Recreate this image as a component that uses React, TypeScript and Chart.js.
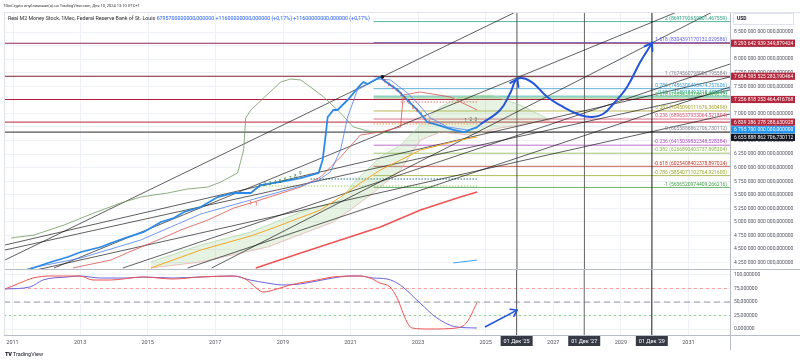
import React, { useEffect, useRef } from 'react';
import { Chart, registerables } from 'chart.js';
Chart.register(...registerables);

// ---------- axes ----------
const X_MIN = 2010.749;
const X_MAX = 2032.23;
const P_MIN = 4133.8;
const P_MAX = 8868.5;
const O_MIN = -11.1;
const O_MAX = 111.1;
const yearTicks = [2011, 2013, 2015, 2017, 2019, 2021, 2023, 2025, 2027, 2029, 2031];
const priceTicks = [4250, 4500, 4750, 5000, 5250, 5500, 5750, 6000, 6250, 6500, 6750, 7000, 7250, 7500, 7750, 8000, 8250, 8500, 8750];
const oscTicks = [0, 25, 50, 75, 100];

// ---------- Real M2 (billions USD) ----------
const m2Years = [2011.37, 2011.58, 2012.11, 2012.61, 2013.0, 2013.59, 2013.89, 2014.39, 2014.86, 2015.37, 2015.75, 2016.05, 2016.55, 2017.05, 2017.53, 2018.03, 2018.32, 2018.92, 2019.51, 2020.04, 2020.16, 2020.25, 2020.31, 2020.48, 2020.6, 2020.9, 2021.28, 2021.37, 2021.49, 2021.87, 2021.96, 2022.38, 2022.67, 2022.97, 2023.26, 2023.56, 2024.03, 2024.35, 2024.74, 2024.83];
const m2Values = [4115, 4152, 4263, 4355, 4447, 4539, 4613, 4723, 4816, 5000, 5073, 5184, 5276, 5460, 5534, 5534, 5681, 5737, 5810, 5902, 6142, 6602, 6934, 7063, 7063, 7247, 7524, 7579, 7542, 7674, 7616, 7431, 7247, 7063, 6842, 6787, 6695, 6656, 6750, 6796];

// hand-drawn projection
const projYears = [2024.83, 2025.42, 2025.72, 2025.93, 2026.31, 2026.82, 2027.29, 2027.79, 2028.15, 2028.47, 2028.77, 2029.18, 2029.57, 2029.92];
const projValues = [6796, 7063, 7376, 7634, 7597, 7303, 7118, 6971, 6934, 6989, 7174, 7487, 7947, 8297];
const projArrowTips = [3, 13];

// indicators
const thinBlueYears = [2011.52, 2013.0, 2014.77, 2016.55, 2018.03, 2019.51, 2020.04, 2020.39, 2020.69, 2020.9, 2021.19, 2021.78, 2022.17, 2022.67, 2022.97, 2023.35, 2023.86, 2024.45, 2024.74];
const thinBlueValues = [4152, 4337, 4668, 5147, 5405, 5663, 5773, 5921, 6326, 6934, 7431, 7634, 7616, 7376, 7192, 6916, 6750, 6695, 6731];
const redThinYears = [2012.76, 2013.89, 2014.57, 2015.28, 2015.96, 2016.76, 2017.53, 2018.03, 2019.51, 2020.1, 2020.69, 2021.28, 2021.87, 2022.47, 2022.55, 2023.05, 2023.94, 2024.74];
const redThinValues = [4152, 4300, 4484, 4668, 4852, 5036, 5258, 5350, 5645, 5829, 6197, 6602, 6658, 6750, 7339, 7395, 7303, 7063];
const greenYears = [2010.93, 2011.61, 2012.5, 2013.38, 2014.18, 2014.77, 2015.57, 2016.16, 2016.76, 2017.14, 2017.64, 2017.82, 2017.88, 2018.03, 2018.92, 2019.21, 2019.51, 2019.8, 2020.19, 2020.69, 2021.07, 2021.49, 2021.87, 2022.17];
const greenValues = [4705, 4760, 4944, 5165, 5350, 5460, 5534, 5608, 5644, 5737, 5902, 6326, 6916, 7063, 7579, 7634, 7616, 7487, 7303, 7008, 6750, 6676, 6658, 6640];
const orangeYears = [2015.07, 2016.55, 2018.03, 2018.53, 2020.1, 2020.69, 2021.28, 2021.87, 2022.47, 2023.06, 2023.65, 2024.24, 2024.74];
const orangeValues = [4152, 4484, 4742, 4852, 5221, 5460, 5718, 5958, 6142, 6326, 6418, 6510, 6566];
const cloudUpperYears = [2015.07, 2016.55, 2018.03, 2019.51, 2020.69, 2021.07, 2021.87, 2022.47, 2023.06, 2023.65, 2024.24, 2025.13, 2026.02, 2026.9];
const cloudUpperValues = [4263, 4576, 4816, 5184, 5405, 5718, 6197, 6418, 6787, 7118, 7303, 7339, 7155, 6879];
const cloudLowerYears = [2015.07, 2016.55, 2018.53, 2020.48, 2021.58, 2022.47, 2022.76, 2023.06, 2023.65, 2024.54, 2025.42, 2026.9];
const cloudLowerValues = [4152, 4263, 4539, 5000, 5497, 5958, 6234, 6510, 6658, 6602, 6731, 6879];
const redMaYears = [2018.18, 2019.51, 2020.69, 2021.87, 2023.06, 2024.24, 2024.74];
const redMaValues = [4152, 4429, 4668, 4908, 5221, 5460, 5552];
const lightBlueYears = [2024.03, 2024.74];
const lightBlueValues = [4244, 4300];

// trend lines: [year1, value1, year2, value2]
const trendLines = [
  [2010.75, 4300, 2026.61, 9089],
  [2010.75, 4576, 2032.23, 7671],
  [2010.75, 4484, 2032.23, 7432],
  [2010.75, 3987, 2032.23, 6989],
  [2014.24, 4152, 2032.23, 7910],
  [2016.16, 4152, 2032.23, 7487],
  [2012.2, 4152, 2031.52, 9089],
  [2016.87, 4152, 2032.4, 9089],
];
const peakDotYear = 2021.93;
const peakDotValue = 7674.56;

// dotted horizontal segments: [fromYear, toYear, value, color]
const dottedLines: [number, number, number, string][] = [
  [2019.8, 2024.74, 5792, '#1f6f78'],
  [2018.3, 2024.74, 5663, '#9ccc65'],
  [2021.67, 2024.74, 6805, '#f0a040'],
  [2022.47, 2024.74, 7210, '#e57373'],
];

// full-width horizontal levels + axis labels
const levelValues = [8293.64, 7684.6, 7256.82, 6839.29, 6655.89];
const levelColors = ['#8e2a58', '#7d2330', '#b71c3c', '#c65060', '#555555'];
const boxValues = [8293.64, 7684.6, 7256.82, 6839.29, 6795.7, 6655.89];
const boxTexts = ['8 293 642 939 349,879424', '7 684 595 525 283,190464', '7 256 818 253 464,416768', '6 839 286 278 288,630928', '6 795 700 000 000,000000', '6 655 888 862 706,730112'];
const boxColors = ['#b3263c', '#b3263c', '#b3263c', '#b3263c', '#2196f3', '#131722'];

// fibonacci
const fibStart = 2021.67;
const fibValues = [8691.79, 8304.39, 7674.56, 7456.31, 7318.0, 7285.4, 7045.09, 6896.54, 6655.89, 6415.04, 6266.89, 6025.41, 5854.07, 5636.52];
const fibTexts = ['2 (8691792659501,467559)', '1.618 (8304391170132,029586)', '1 (7674560798006,195584)', '0.786 (7456306493474,757606)', '0.65 (7318018493318,488336)', '0.618 (7285439318618,479372)', '0.382 (7045090111676,360496)', '0.236 (6896537933064,521804)', '0 (6655888862706,730112)', '-0.236 (6415039832348,528384)', '-0.382 (6266893403737,898304)', '-0.618 (6025408402378,897024)', '-0.786 (5854071102764,921600)', '-1 (5636520974409,266216)'];
const fibColors = ['#2fa383', '#5c5ce0', '#808390', '#3a9fd0', '#26a69a', '#4caf50', '#a8a62a', '#d4526e', '#808390', '#b04cc0', '#8bb84a', '#c0392b', '#9aab2e', '#43a047'];

// TD sequential counts
const tdYears = [2018.03, 2018.2, 2018.3, 2018.45, 2018.6, 2018.75, 2018.9, 2019.05, 2019.2, 2019.35, 2019.5, 2022.0, 2022.12, 2022.24, 2022.36, 2022.48, 2022.6, 2022.72, 2022.84, 2022.96, 2023.08, 2023.2, 2023.32, 2024.4, 2024.55, 2024.7];
const tdValues = [5330, 5310, 5650, 5675, 5700, 5720, 5745, 5770, 5800, 5840, 5880, 7580, 7530, 7470, 7410, 7340, 7270, 7190, 7110, 7040, 6970, 6900, 6830, 6860, 6875, 6890];
const tdLabels = ['1', '1', '1', '2', '3', '4', '5', '6', '7', '8', '9', '1', '2', '3', '4', '5', '6', '7', '8', '9', '1', '2', '3', '1', '2', '3'];
const tdColors = ['#e53935', '#e53935', '#2e7d32', '#2e7d32', '#2e7d32', '#2e7d32', '#2e7d32', '#2e7d32', '#2e7d32', '#2e7d32', '#2e7d32', '#e53935', '#e53935', '#e53935', '#e53935', '#e53935', '#e53935', '#e53935', '#e53935', '#e53935', '#e53935', '#e53935', '#e53935', '#2e7d32', '#2e7d32', '#2e7d32'];

// oscillator
const oscRedYears = [2010.78, 2011.22, 2011.61, 2012.11, 2013.0, 2013.38, 2013.89, 2014.86, 2015.75, 2016.55, 2017.53, 2017.94, 2018.18, 2018.41, 2018.83, 2019.21, 2020.01, 2020.48, 2021.28, 2021.58, 2021.87, 2022.17, 2022.38, 2022.67, 2022.82, 2023.35, 2024.15, 2024.45, 2024.74];
const oscRedValues = [74.1, 85.2, 94.4, 98.1, 98.1, 90.7, 90.7, 96.3, 92.6, 96.3, 98.1, 90.7, 77.8, 68.5, 74.1, 81.5, 90.7, 96.3, 98.1, 94.4, 85.2, 77.8, 57.4, 13.0, 1.9, 0, 1.9, 13.0, 48.1];
const oscBlueYears = [2010.78, 2011.52, 2011.9, 2012.61, 2013.0, 2013.59, 2014.39, 2014.86, 2015.75, 2016.55, 2017.53, 2018.03, 2018.53, 2019.0, 2019.51, 2020.01, 2020.48, 2020.99, 2021.28, 2021.67, 2022.08, 2022.47, 2023.06, 2023.56, 2024.15, 2024.74];
const oscBlueValues = [74.1, 77.8, 90.7, 96.3, 98.1, 94.4, 94.4, 96.3, 94.4, 96.3, 98.1, 90.7, 85.2, 81.5, 83.3, 88.9, 94.4, 98.1, 98.1, 94.4, 92.6, 81.5, 48.1, 20.4, 3.7, 1.9];
const oscArrowYears = [2024.98, 2025.93];
const oscArrowValues = [3.7, 35];
const oscLevels = [75, 50, 25];
const oscLevelColors = ['#f4a3a3', '#9598a1', '#8fd18f'];
const oscLevelDash = [[3, 3], [6, 4], [2, 3]];

// vertical date markers
const markerYears = [2025.917, 2027.917, 2029.917];
const markerTexts = ["01 Дек '25", "01 Дек '27", "01 Дек '29"];
const markerColors = ['#555555', '#666666', '#1a1a1a'];

const FONT = 'Roboto';

const pts = (xs: number[], ys: number[]) => xs.map((x, i) => ({ x, y: ys[i] }));
const ds = (data: any[], color: string, width: number, extra: any = {}) => ({
  data, borderColor: color, borderWidth: width, pointRadius: 0, fill: false, tension: 0, ...extra,
});
const fmtBig = (v: number) => String(Math.round(v) * 1e9).replace(/\B(?=(\d{3})+(?!\d))/g, ' ') + ',000000';

function arrowHead(ctx: CanvasRenderingContext2D, fx: number, fy: number, tx: number, ty: number, len: number) {
  const a = Math.atan2(ty - fy, tx - fx);
  ctx.beginPath();
  ctx.moveTo(tx - len * Math.cos(a - 0.6), ty - len * Math.sin(a - 0.6));
  ctx.lineTo(tx, ty);
  ctx.lineTo(tx - len * Math.cos(a + 0.6), ty - len * Math.sin(a + 0.6));
  ctx.stroke();
}

export default function App() {
  const mainRef = useRef<HTMLCanvasElement>(null);
  const oscRef = useRef<HTMLCanvasElement>(null);

  useEffect(() => {
    document.body.style.margin = '0';
    const datasets: any[] = [];
    fibValues.forEach((v, i) => datasets.push(ds([{ x: fibStart, y: v }, { x: X_MAX, y: v }], fibColors[i], 0.8, { order: 30 })));
    levelValues.forEach((v, i) => datasets.push(ds([{ x: X_MIN, y: v }, { x: X_MAX, y: v }], levelColors[i], 1.1, { order: 29 })));
    dottedLines.forEach(([a, b, v, c]) => datasets.push(ds([{ x: a, y: v }, { x: b, y: v }], c, 1.2, { borderDash: [1.5, 1.5], order: 28 })));
    markerYears.forEach((yr, i) => datasets.push(ds([{ x: yr, y: P_MIN }, { x: yr, y: P_MAX }], markerColors[i], 1, { order: 27 })));
    datasets.push(ds(pts(cloudUpperYears, cloudUpperValues), '#a9d6a0', 0.7, { fill: '+1', backgroundColor: 'rgba(130,190,110,0.2)', order: 26 }));
    datasets.push(ds(pts(cloudLowerYears, cloudLowerValues), '#e7a7a7', 0.7, { order: 25 }));
    trendLines.forEach(([x1, y1, x2, y2]) => datasets.push(ds([{ x: x1, y: y1 }, { x: x2, y: y2 }], 'rgba(20,20,20,0.85)', 0.8, { order: 20 })));
    datasets.push(ds(pts(redMaYears, redMaValues), '#f05454', 1.5, { order: 15 }));
    datasets.push(ds(pts(orangeYears, orangeValues), '#f5a623', 1, { order: 14 }));
    datasets.push(ds(pts(lightBlueYears, lightBlueValues), '#42a5f5', 1.2, { order: 14 }));
    datasets.push(ds(pts(greenYears, greenValues), '#6e9c5e', 0.8, { order: 13 }));
    datasets.push(ds(pts(redThinYears, redThinValues), '#d9534f', 0.8, { order: 12 }));
    datasets.push(ds(pts(thinBlueYears, thinBlueValues), '#4f7cf0', 0.8, { order: 11 }));
    datasets.push(ds(pts(m2Years, m2Values), '#2b8ae8', 1.8, { order: 5 }));
    datasets.push(ds(pts(projYears, projValues), '#2455d8', 2, { tension: 0.4, order: 2 }));
    datasets.push(ds([{ x: peakDotYear, y: peakDotValue }], '#111', 1, { pointRadius: 1.4, pointBackgroundColor: '#111', order: 1 }));

    const mainOverlay = {
      id: 'mainOverlay',
      afterDatasetsDraw(chart: any) {
        const { ctx, scales } = chart;
        const xs = scales.x, ys = scales.y;
        ctx.save();
        ctx.font = `5px ${FONT}`;
        ctx.textAlign = 'right';
        ctx.textBaseline = 'bottom';
        fibValues.forEach((v, i) => {
          ctx.fillStyle = fibColors[i];
          ctx.fillText(fibTexts[i], 727, ys.getPixelForValue(v) - 0.5);
        });
        ctx.font = `4.5px ${FONT}`;
        ctx.textAlign = 'center';
        ctx.textBaseline = 'middle';
        tdYears.forEach((yr, i) => {
          ctx.fillStyle = tdColors[i];
          ctx.fillText(tdLabels[i], xs.getPixelForValue(yr), ys.getPixelForValue(tdValues[i]));
        });
        ctx.strokeStyle = '#2455d8';
        ctx.lineWidth = 2;
        ctx.lineCap = 'round';
        projArrowTips.forEach((ti) => {
          arrowHead(ctx, xs.getPixelForValue(projYears[ti - 1]), ys.getPixelForValue(projValues[ti - 1]), xs.getPixelForValue(projYears[ti]), ys.getPixelForValue(projValues[ti]), 8);
        });
        ctx.restore();
      },
      afterDraw(chart: any) {
        const { ctx, scales } = chart;
        const ys = scales.y;
        ctx.save();
        ctx.fillStyle = '#fff';
        ctx.strokeStyle = '#e0e3eb';
        ctx.lineWidth = 1;
        ctx.fillRect(733, 13, 60, 11);
        ctx.strokeRect(733.5, 13.5, 60, 11);
        ctx.fillStyle = '#131722';
        ctx.font = `bold 5px ${FONT}`;
        ctx.textAlign = 'left';
        ctx.textBaseline = 'middle';
        ctx.fillText('USD', 737, 19);
        let prev = -100;
        ctx.font = `5px ${FONT}`;
        boxValues.forEach((v, i) => {
          let y = ys.getPixelForValue(v);
          if (y < prev + 7.6) y = prev + 7.6;
          prev = y;
          ctx.fillStyle = boxColors[i];
          ctx.fillRect(731, y - 3.6, 64, 7.2);
          ctx.fillStyle = '#fff';
          ctx.fillText(boxTexts[i], 734, y + 0.3);
        });
        ctx.restore();
      },
    };

    const main = new Chart(mainRef.current!, {
      type: 'line',
      data: { datasets },
      plugins: [mainOverlay],
      options: {
        animation: false,
        responsive: false,
        devicePixelRatio: 1,
        layout: { padding: { left: 4, top: 12, right: 0, bottom: 94 } },
        plugins: { legend: { display: false }, tooltip: { enabled: false } },
        scales: {
          x: {
            type: 'linear', min: X_MIN, max: X_MAX,
            afterFit: (s: any) => { s.height = 0; },
            afterBuildTicks: (s: any) => { s.ticks = yearTicks.map((v) => ({ value: v })); },
            ticks: { display: false },
            grid: { color: '#eef1f6', drawTicks: false },
            border: { display: false },
          },
          y: {
            type: 'linear', position: 'right', min: P_MIN, max: P_MAX,
            afterFit: (s: any) => { s.width = 70; },
            afterBuildTicks: (s: any) => { s.ticks = priceTicks.map((v) => ({ value: v })); },
            ticks: { padding: 4, color: '#50535e', font: { family: FONT, size: 5 }, callback: (v: any) => fmtBig(Number(v)), autoSkip: false },
            grid: { color: '#eef1f6', drawTicks: false },
            border: { display: false },
          },
        },
      } as any,
    });

    const oscDatasets: any[] = [];
    oscLevels.forEach((v, i) => oscDatasets.push(ds([{ x: X_MIN, y: v }, { x: X_MAX, y: v }], oscLevelColors[i], 1, { borderDash: oscLevelDash[i], order: 30 })));
    markerYears.forEach((yr, i) => oscDatasets.push(ds([{ x: yr, y: O_MIN }, { x: yr, y: O_MAX }], markerColors[i], 1, { order: 27 })));
    oscDatasets.push(ds(pts(oscBlueYears, oscBlueValues), '#6b63e0', 1, { cubicInterpolationMode: 'monotone', order: 5 }));
    oscDatasets.push(ds(pts(oscRedYears, oscRedValues), '#ef5350', 1, { cubicInterpolationMode: 'monotone', order: 4 }));
    oscDatasets.push(ds(pts(oscArrowYears, oscArrowValues), '#2455d8', 1.6, { order: 1 }));

    const oscOverlay = {
      id: 'oscOverlay',
      afterDatasetsDraw(chart: any) {
        const { ctx, scales } = chart;
        const xs = scales.x, ys = scales.y;
        ctx.save();
        ctx.strokeStyle = '#2455d8';
        ctx.lineWidth = 1.6;
        ctx.lineCap = 'round';
        arrowHead(ctx, xs.getPixelForValue(oscArrowYears[0]), ys.getPixelForValue(oscArrowValues[0]), xs.getPixelForValue(oscArrowYears[1]), ys.getPixelForValue(oscArrowValues[1]), 7);
        ctx.restore();
      },
      afterDraw(chart: any) {
        const { ctx, scales } = chart;
        const xs = scales.x;
        ctx.save();
        ctx.strokeStyle = '#b8bcc6';
        ctx.lineWidth = 1;
        ctx.beginPath();
        ctx.moveTo(4, 269.5); ctx.lineTo(800, 269.5);
        ctx.moveTo(4, 335.5); ctx.lineTo(800, 335.5);
        ctx.moveTo(730.5, 12); ctx.lineTo(730.5, 350);
        ctx.stroke();
        ctx.strokeStyle = '#e0e3eb';
        ctx.beginPath();
        ctx.moveTo(4, 12.5); ctx.lineTo(800, 12.5);
        ctx.moveTo(4.5, 12); ctx.lineTo(4.5, 335);
        ctx.stroke();
        ctx.font = `5.5px ${FONT}`;
        ctx.textAlign = 'center';
        ctx.textBaseline = 'middle';
        markerYears.forEach((yr, i) => {
          const x = xs.getPixelForValue(yr);
          ctx.fillStyle = '#363a45';
          ctx.fillRect(x - 16, 336, 32, 10);
          ctx.fillStyle = '#fff';
          ctx.fillText(markerTexts[i], x, 341.3);
        });
        ctx.restore();
      },
    };

    const osc = new Chart(oscRef.current!, {
      type: 'line',
      data: { datasets: oscDatasets },
      plugins: [oscOverlay],
      options: {
        animation: false,
        responsive: false,
        devicePixelRatio: 1,
        layout: { padding: { left: 4, top: 269, right: 0, bottom: 0 } },
        plugins: { legend: { display: false }, tooltip: { enabled: false } },
        scales: {
          x: {
            type: 'linear', min: X_MIN, max: X_MAX,
            afterFit: (s: any) => { s.height = 28; },
            afterBuildTicks: (s: any) => { s.ticks = yearTicks.map((v) => ({ value: v })); },
            ticks: { padding: 4, color: '#50535e', font: { family: FONT, size: 5.5 }, maxRotation: 0, autoSkip: false, callback: (v: any) => String(v) },
            grid: { color: '#eef1f6', drawTicks: false },
            border: { display: false },
          },
          y: {
            type: 'linear', position: 'right', min: O_MIN, max: O_MAX,
            afterFit: (s: any) => { s.width = 70; },
            afterBuildTicks: (s: any) => { s.ticks = oscTicks.map((v) => ({ value: v })); },
            ticks: { padding: 4, color: '#50535e', font: { family: FONT, size: 5 }, callback: (v: any) => Number(v).toFixed(6).replace('.', ','), autoSkip: false },
            grid: { color: '#eef1f6', drawTicks: false },
            border: { display: false },
          },
        },
      } as any,
    });

    return () => { main.destroy(); osc.destroy(); };
  }, []);

  return (
    <div style={{ position: 'fixed', left: 0, top: 0, width: 800, height: 363, background: '#fff', overflow: 'hidden', fontFamily: FONT }}>
      <canvas ref={mainRef} width={800} height={363} style={{ position: 'absolute', left: 0, top: 0 }} />
      <canvas ref={oscRef} width={800} height={363} style={{ position: 'absolute', left: 0, top: 0 }} />
      <div style={{ position: 'absolute', left: 3, top: 3, fontSize: 4, lineHeight: '5px', color: '#333', whiteSpace: 'nowrap' }}>
        TDinCrypto опубликовал(а) на TradingView.com, Дек 10, 2024 13:10 UTC+1
      </div>
      <div style={{ position: 'absolute', left: 8, top: 15, fontSize: 5.3, lineHeight: '7px', color: '#333', whiteSpace: 'nowrap' }}>
        Real M2 Money Stock, 1Мес, Federal Reserve Bank of St. Louis{' '}
        <span style={{ color: '#2962ff' }}>6795700000000,000000 +11600000000,000000 (+0,17%) +11600000000,000000 (+0,17%)</span>
      </div>
      <div style={{ position: 'absolute', left: 5, top: 351, fontSize: 5.5, lineHeight: '7px', color: '#131722', whiteSpace: 'nowrap' }}>
        <span style={{ fontWeight: 900, letterSpacing: -0.3 }}>TV</span> TradingView
      </div>
    </div>
  );
}
